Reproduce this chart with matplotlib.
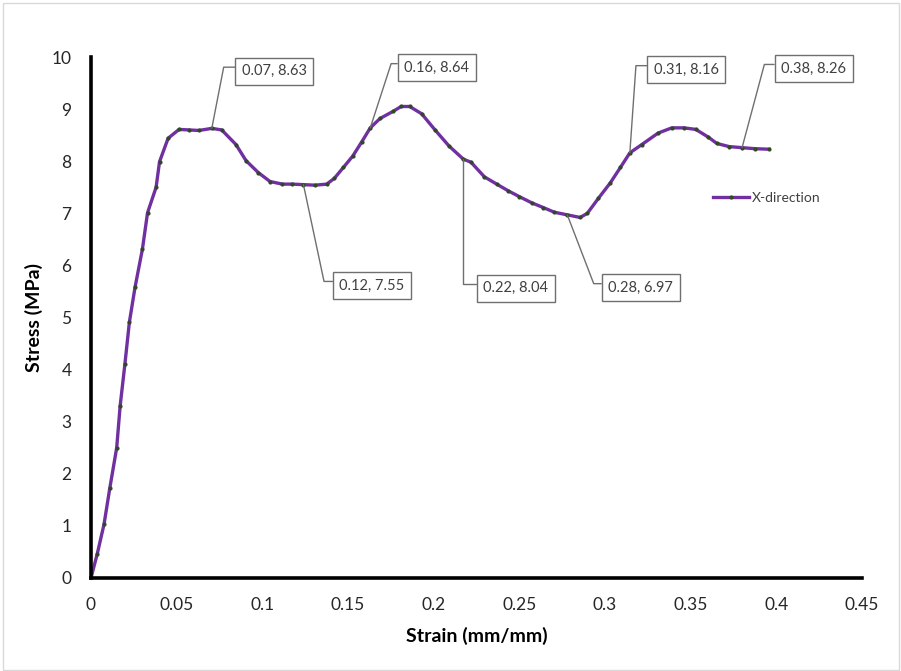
import matplotlib
matplotlib.use("Agg")
import matplotlib.pyplot as plt
from matplotlib.patches import Rectangle

plt.rcParams['font.family'] = ['Lato', 'DejaVu Sans']

# strain / stress readings, X-direction specimen
strain = [0, 0.0037, 0.0076, 0.0110, 0.0150, 0.0170, 0.0198, 0.0224, 0.0257, 0.0300,
          0.0330, 0.0380, 0.0400, 0.0450, 0.0514, 0.0572, 0.0630, 0.0705, 0.0763, 0.0846,
          0.0905, 0.0977, 0.1045, 0.1117, 0.1175, 0.1240, 0.1308, 0.1376, 0.1420, 0.1473,
          0.1528, 0.1580, 0.1630, 0.1687, 0.1765, 0.1810, 0.1860, 0.1930, 0.2008, 0.2090,
          0.2173, 0.2218, 0.2296, 0.2368, 0.2436, 0.2500, 0.2573, 0.2640, 0.2705, 0.2780,
          0.2855, 0.2897, 0.2962, 0.3030, 0.3090, 0.3145, 0.3215, 0.3310, 0.3390, 0.3462,
          0.3530, 0.3604, 0.3653, 0.3725, 0.3800, 0.3875, 0.3958]
stress = [0, 0.47, 1.03, 1.73, 2.50, 3.30, 4.11, 4.91, 5.58, 6.31,
          7.01, 7.50, 7.99, 8.44, 8.61, 8.60, 8.59, 8.63, 8.60, 8.32,
          8.01, 7.78, 7.61, 7.56, 7.56, 7.55, 7.54, 7.56, 7.67, 7.88,
          8.10, 8.37, 8.64, 8.82, 8.96, 9.05, 9.05, 8.91, 8.60, 8.29,
          8.04, 7.98, 7.70, 7.56, 7.43, 7.32, 7.20, 7.11, 7.02, 6.97,
          6.92, 7.00, 7.29, 7.58, 7.88, 8.16, 8.32, 8.54, 8.64, 8.64,
          8.61, 8.46, 8.34, 8.28, 8.26, 8.24, 8.23]

# indices of the labelled points
label_idx = [17, 25, 32, 40, 49, 55, 64]
# callout offsets (pixels) and leader angle
label_off = [(30, 57), (36, -101), (34, 60), (20, -129), (41, -73), (24, 83), (39, 79)]
label_ang = [79, -78, 72, 90, -69, 86, 75]

fig = plt.figure(figsize=(9.01, 6.71), dpi=100)
ax = fig.add_axes([91 / 901, 1 - 578 / 671, 771 / 901, 521 / 671])

ax.plot(strain, stress, color='#7030A0', lw=2.4, marker='o', ms=2.0,
        mfc='#2f4a25', mec='#2f4a25', label='X-direction')

for i, (dx, dy), ang in zip(label_idx, label_off, label_ang):
    ax.annotate(f'{strain[i]:.2f}, {stress[i]:.2f}', xy=(strain[i], stress[i]),
                xytext=(dx, dy), textcoords='offset pixels', ha='left', va='center',
                fontsize=10.5, color='#404040',
                bbox=dict(boxstyle='square,pad=0.45', fc='white', ec='#6f6f6f', lw=1),
                arrowprops=dict(arrowstyle='-', color='#6f6f6f', lw=1, shrinkA=0, shrinkB=0,
                                relpos=(0, 0.8),
                                connectionstyle=f'angle,angleA=0,angleB={ang},rad=0'))

ax.set_xlim(0, 0.45)
ax.set_ylim(0, 10)
ax.set_xticks([0, 0.05, 0.1, 0.15, 0.2, 0.25, 0.3, 0.35, 0.4, 0.45])
ax.set_xticklabels(['0', '0.05', '0.1', '0.15', '0.2', '0.25', '0.3', '0.35', '0.4', '0.45'])
ax.set_yticks(range(0, 11))
ax.tick_params(axis='x', length=0, pad=14, labelsize=12.5, labelcolor='#262626')
ax.tick_params(axis='y', length=0, pad=14, labelsize=12.5, labelcolor='#262626')

for s in ['top', 'right']:
    ax.spines[s].set_visible(False)
for s in ['left', 'bottom']:
    ax.spines[s].set_linewidth(2.6)
    ax.spines[s].set_color('black')

ax.set_xlabel('Strain (mm/mm)', fontsize=14, fontweight='bold', labelpad=10)
ax.set_ylabel('Stress (MPa)', fontsize=14, fontweight='bold', labelpad=6)

ax.legend(loc='center left', bbox_to_anchor=(0.79, 0.73), frameon=False, fontsize=10,
          handlelength=2.6, handletextpad=0.2, labelcolor='#404040')

fig.patches.append(Rectangle((3 / 901, 1 / 671), 896 / 901, 667 / 671, transform=fig.transFigure,
                             fill=False, ec='#d9d9d9', lw=1))

fig.savefig('out.png', dpi=100)
